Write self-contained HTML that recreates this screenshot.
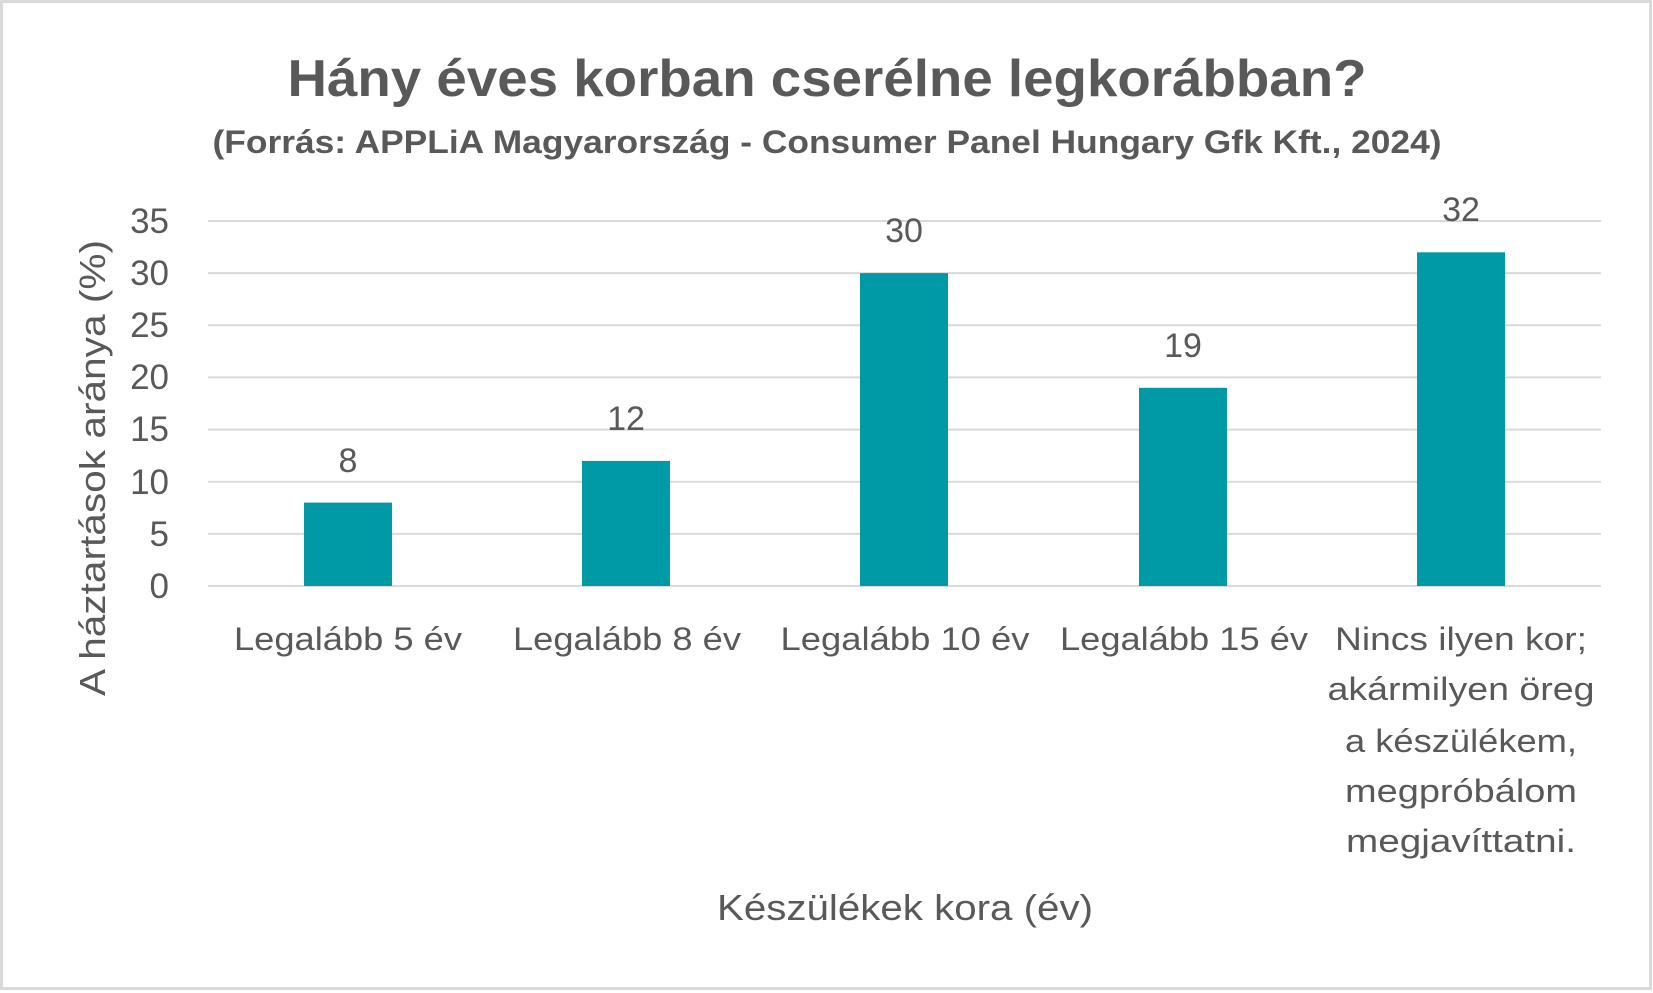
<!DOCTYPE html>
<html><head><meta charset="utf-8"><style>
html,body{margin:0;padding:0;background:#fff}
svg{display:block}
text{font-family:"Liberation Sans",sans-serif;fill:#595959}
</style></head><body>
<svg width="1653" height="993" viewBox="0 0 1653 993" xmlns="http://www.w3.org/2000/svg">
<rect x="1.5" y="1.5" width="1649" height="987" fill="#fff" stroke="#d9d9d9" stroke-width="3"/>
<text x="827" y="96" text-anchor="middle" font-size="52" font-weight="bold" textLength="1079" lengthAdjust="spacingAndGlyphs">Hány éves korban cserélne legkorábban?</text>
<text x="827" y="153" text-anchor="middle" font-size="32" font-weight="bold" textLength="1229" lengthAdjust="spacingAndGlyphs">(Forrás: APPLiA Magyarország - Consumer Panel Hungary Gfk Kft., 2024)</text>
<g stroke="#d9d9d9" stroke-width="2">
<line x1="208" x2="1601" y1="221" y2="221"/>
<line x1="208" x2="1601" y1="273.1" y2="273.1"/>
<line x1="208" x2="1601" y1="325.3" y2="325.3"/>
<line x1="208" x2="1601" y1="377.4" y2="377.4"/>
<line x1="208" x2="1601" y1="429.6" y2="429.6"/>
<line x1="208" x2="1601" y1="481.7" y2="481.7"/>
<line x1="208" x2="1601" y1="533.9" y2="533.9"/>
<line x1="208" x2="1601" y1="586" y2="586"/>
</g>
<g font-size="35" text-anchor="end">
<text x="169" y="233">35</text><text x="169" y="285">30</text><text x="169" y="337">25</text>
<text x="169" y="389">20</text><text x="169" y="441">15</text><text x="169" y="494">10</text>
<text x="169" y="546">5</text><text x="169" y="598">0</text>
</g>
<g fill="#009aa6">
<rect x="304" y="502.6" width="88" height="83.4"/>
<rect x="582" y="460.9" width="88" height="125.1"/>
<rect x="860" y="273.1" width="88" height="312.9"/>
<rect x="1139" y="387.8" width="88" height="198.2"/>
<rect x="1417" y="252.3" width="88" height="333.7"/>
</g>
<g font-size="34" text-anchor="middle">
<text x="348" y="472">8</text><text x="626" y="430">12</text><text x="904" y="242">30</text>
<text x="1183" y="357">19</text><text x="1461" y="221">32</text>
</g>
<g font-size="32" text-anchor="middle">
<text x="348" y="650" textLength="228" lengthAdjust="spacingAndGlyphs">Legalább 5 év</text>
<text x="627" y="650" textLength="228" lengthAdjust="spacingAndGlyphs">Legalább 8 év</text>
<text x="905" y="650" textLength="249" lengthAdjust="spacingAndGlyphs">Legalább 10 év</text>
<text x="1184" y="650" textLength="248" lengthAdjust="spacingAndGlyphs">Legalább 15 év</text>
<text x="1461" y="650" textLength="252" lengthAdjust="spacingAndGlyphs">Nincs ilyen kor;</text>
<text x="1461" y="700" textLength="267" lengthAdjust="spacingAndGlyphs">akármilyen öreg</text>
<text x="1461" y="752" textLength="232" lengthAdjust="spacingAndGlyphs">a készülékem,</text>
<text x="1461" y="802" textLength="232" lengthAdjust="spacingAndGlyphs">megpróbálom</text>
<text x="1461" y="852" textLength="230" lengthAdjust="spacingAndGlyphs">megjavíttatni.</text>
</g>
<text x="905" y="920" text-anchor="middle" font-size="36" textLength="376" lengthAdjust="spacingAndGlyphs">Készülékek kora (év)</text>
<text transform="translate(105,468) rotate(-90)" text-anchor="middle" font-size="36" textLength="456" lengthAdjust="spacingAndGlyphs">A háztartások aránya (%)</text>
</svg>
</body></html>
